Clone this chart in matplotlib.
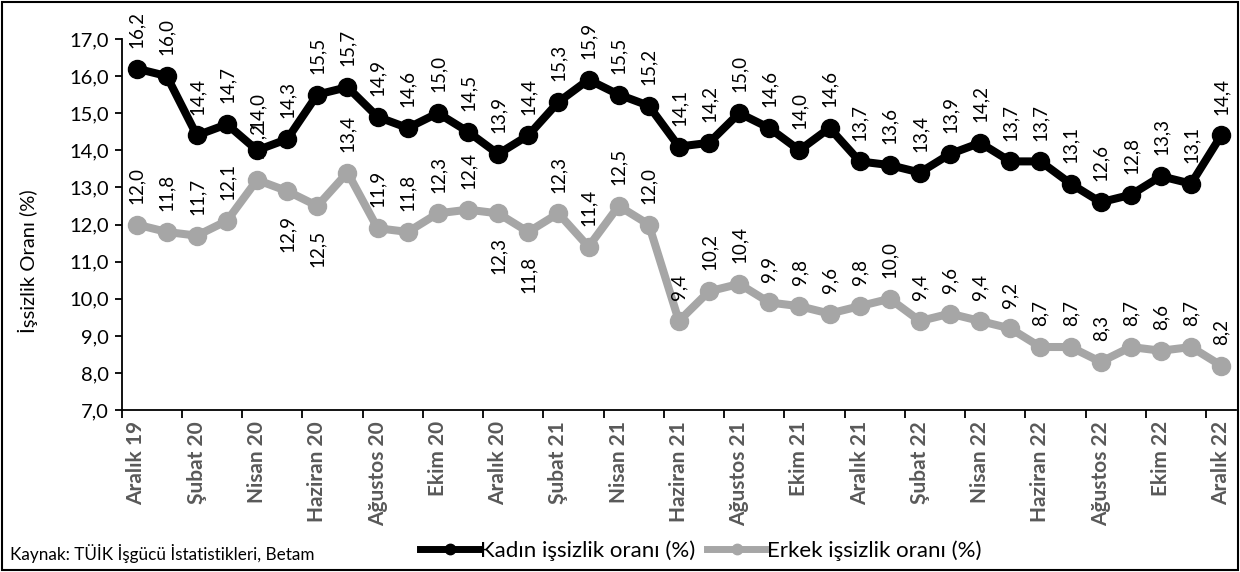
import numpy as np
import matplotlib
matplotlib.use("Agg")
import matplotlib.pyplot as plt
from matplotlib.patches import Rectangle
from matplotlib.lines import Line2D

plt.rcParams['font.family'] = ['Lato', 'DejaVu Sans']

# monthly data, Aralik 2019 - Aralik 2022
tick_labels = ["Aralık 19", "Şubat 20", "Nisan 20", "Haziran 20", "Ağustos 20", "Ekim 20",
               "Aralık 20", "Şubat 21", "Nisan 21", "Haziran 21", "Ağustos 21", "Ekim 21",
               "Aralık 21", "Şubat 22", "Nisan 22", "Haziran 22", "Ağustos 22", "Ekim 22",
               "Aralık 22"]

kadin = [16.2, 16.0, 14.4, 14.7, 14.0, 14.3, 15.5, 15.7, 14.9, 14.6, 15.0, 14.5, 13.9,
         14.4, 15.3, 15.9, 15.5, 15.2, 14.1, 14.2, 15.0, 14.6, 14.0, 14.6, 13.7, 13.6,
         13.4, 13.9, 14.2, 13.7, 13.7, 13.1, 12.6, 12.8, 13.3, 13.1, 14.4]
erkek = [12.0, 11.8, 11.7, 12.1, 13.2, 12.9, 12.5, 13.4, 11.9, 11.8, 12.3, 12.4, 12.3,
         11.8, 12.3, 11.4, 12.5, 12.0, 9.4, 10.2, 10.4, 9.9, 9.8, 9.6, 9.8, 10.0,
         9.4, 9.6, 9.4, 9.2, 8.7, 8.7, 8.3, 8.7, 8.6, 8.7, 8.2]
# erkek labels drawn below the point
erkek_below = [5, 6, 12, 13]

x = np.arange(len(kadin))
gray = "#A6A6A6"

fig = plt.figure(figsize=(12.4, 5.72), dpi=100)
ax = fig.add_axes([0.098, 0.283, 0.899, 0.649])

ax.plot(x, kadin, color="black", lw=5.8, marker="o", ms=13)
ax.plot(x, erkek, color=gray, lw=5.8, marker="o", ms=13)

def fmt(v):
    return f"{v:.1f}".replace(".", ",")

lbl_size = 13.5
for i, v in enumerate(kadin):
    ax.annotate(fmt(v), (i, v), xytext=(0, 15), textcoords="offset points",
                rotation=90, ha="center", va="bottom", fontsize=lbl_size, annotation_clip=False)
for i, v in enumerate(erkek):
    if i in erkek_below:
        ax.annotate(fmt(v), (i, v), xytext=(0, -17), textcoords="offset points",
                    rotation=90, ha="center", va="top", fontsize=lbl_size)
    else:
        ax.annotate(fmt(v), (i, v), xytext=(0, 15), textcoords="offset points",
                    rotation=90, ha="center", va="bottom", fontsize=lbl_size)

ax.set_xlim(-0.5, len(kadin) - 0.5)
ax.set_ylim(7, 17)
ax.set_yticks(np.arange(7, 17.1, 1))
ax.set_yticklabels([fmt(v) for v in np.arange(7, 17.1, 1)], fontsize=14.5)
ax.tick_params(axis="y", length=5, width=1.3, direction="out", pad=4)

ax.set_xticks(np.arange(-0.5, len(kadin) - 1, 2))
ax.set_xticklabels([])
ax.tick_params(axis="x", which="major", length=6, width=1.3, direction="out")
ax.set_xticks(x[::2], minor=True)
ax.set_xticklabels(tick_labels, minor=True, rotation=90, fontsize=15,
                   fontweight="bold", color="#595959")
ax.tick_params(axis="x", which="minor", length=0, pad=8)

for s in ["top", "right"]:
    ax.spines[s].set_visible(False)
for s in ["left", "bottom"]:
    ax.spines[s].set_linewidth(1.3)

ax.set_ylabel("İşsizlik Oranı (%)", fontsize=14.5)
ax.yaxis.set_label_coords(-0.075, 0.40)

handles = [Line2D([], [], color="black", lw=5, marker="o", ms=7.5),
           Line2D([], [], color=gray, lw=5, marker="o", ms=7.5)]
ax.legend(handles, ["Kadın işsizlik oranı (%)", "Erkek işsizlik oranı (%)"],
          loc="center", bbox_to_anchor=(0.565, 0.038), bbox_transform=fig.transFigure,
          ncol=2, frameon=False, fontsize=16, handlelength=2.7, handletextpad=0.0,
          columnspacing=0.5, borderpad=0)

fig.text(0.008, 0.033, "Kaynak: TÜİK İşgücü İstatistikleri, Betam", fontsize=12.3, va="center")

fig.patches.append(Rectangle((0.002, 0.003), 0.996, 0.993, transform=fig.transFigure,
                             fill=False, edgecolor="black", lw=1.5))

fig.savefig("out.png", dpi=100)
